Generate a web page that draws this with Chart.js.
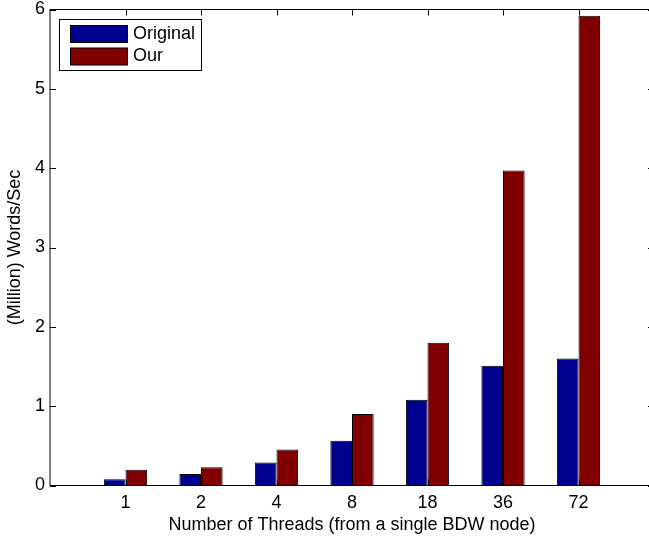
<!DOCTYPE html>
<html>
<head>
<meta charset="utf-8">
<script src="https://cdn.jsdelivr.net/npm/chart.js@4"></script>
<style>
  html, body { margin: 0; padding: 0; background: #fff; overflow: hidden; }
  #wrap { width: 660px; height: 538px; }
</style>
</head>
<body>
<div id="wrap"><canvas id="chart" width="660" height="538"></canvas></div>
<script>
// values
const threads = ['1', '2', '4', '8', '18', '36', '72'];
const original = [0.08, 0.145, 0.29, 0.565, 1.08, 1.51, 1.60];
const our = [0.20, 0.23, 0.455, 0.90, 1.80, 3.97, 5.92];
const yTicks = [0, 1, 2, 3, 4, 5, 6];

const FONT = '"Liberation Sans", Arial, Helvetica, sans-serif';
Chart.defaults.font.family = FONT;
Chart.defaults.color = '#000';

// one empty slot on each side, like the matlab axis limits
const labels = [''].concat(threads, ['']);
const pad = arr => [null].concat(arr, [null]);

// box, inward ticks and legend drawn the matlab way
const matlabAxes = {
  id: 'matlabAxes',
  afterDatasetsDraw(chart) {
    const { ctx, chartArea: a, scales } = chart;
    ctx.save();
    ctx.strokeStyle = '#000';
    ctx.lineWidth = 1;
    ctx.beginPath();
    yTicks.forEach(v => {
      const y = Math.round(scales.y.getPixelForValue(v)) + 0.5;
      ctx.moveTo(a.left, y); ctx.lineTo(a.left + 6, y);
      ctx.moveTo(a.right, y); ctx.lineTo(a.right - 6, y);
    });
    threads.forEach((t, i) => {
      const x = Math.round(scales.x.getPixelForValue(i + 1)) + 0.5;
      ctx.moveTo(x, a.top); ctx.lineTo(x, a.top + 6);
      ctx.moveTo(x, a.bottom); ctx.lineTo(x, a.bottom - 6);
    });
    ctx.stroke();
    ctx.strokeRect(a.left, a.top, a.right - a.left, a.bottom - a.top);

    // legend
    const lx = 59.5, ly = 19.5;
    ctx.fillStyle = '#fff';
    ctx.fillRect(lx, ly, 142, 51);
    ctx.strokeRect(lx, ly, 142, 51);
    ctx.font = '18px ' + FONT;
    ctx.textBaseline = 'middle';
    chart.data.datasets.forEach((ds, i) => {
      const sy = 25.5 + i * 22.5;
      ctx.fillStyle = ds.backgroundColor;
      ctx.fillRect(70.5, sy, 57, 17);
      ctx.strokeRect(70.5, sy, 57, 17);
      ctx.fillStyle = '#000';
      ctx.fillText(ds.label, 133, sy + 8.5);
    });
    ctx.restore();
  }
};

new Chart(document.getElementById('chart'), {
  type: 'bar',
  data: {
    labels: labels,
    datasets: [
      { label: 'Original', data: pad(original), backgroundColor: '#00008f', borderColor: '#000', borderWidth: 1 },
      { label: 'Our', data: pad(our), backgroundColor: '#800000', borderColor: '#000', borderWidth: 1 }
    ]
  },
  options: {
    responsive: false,
    animation: false,
    devicePixelRatio: 1,
    layout: { padding: { left: 0, top: 9.5, right: 6, bottom: 0 } },
    datasets: { bar: { categoryPercentage: 0.573, barPercentage: 1.0 } },
    scales: {
      x: {
        offset: false,
        grid: { display: false, drawTicks: false },
        border: { display: false },
        ticks: { font: { size: 18 }, padding: 6.5, maxRotation: 0, autoSkip: false },
        title: { display: true, text: 'Number of Threads (from a single BDW node)', font: { size: 18 }, padding: { top: 0, bottom: 2.5 } },
        afterFit(scale) { scale.height = 52.5; scale.paddingLeft = 0; scale.paddingRight = 0; }
      },
      y: {
        min: 0,
        max: 6,
        grid: { display: false, drawTicks: false },
        border: { display: false },
        ticks: { stepSize: 1, font: { size: 18 }, padding: 5 },
        title: { display: true, text: '(Million) Words/Sec', font: { size: 18 }, padding: { top: 4, bottom: 0 } },
        afterFit(scale) { scale.width = 50; scale.paddingTop = 0; scale.paddingBottom = 0; }
      }
    },
    plugins: {
      legend: { display: false },
      tooltip: { enabled: false }
    }
  },
  plugins: [matlabAxes]
});
</script>
</body>
</html>
